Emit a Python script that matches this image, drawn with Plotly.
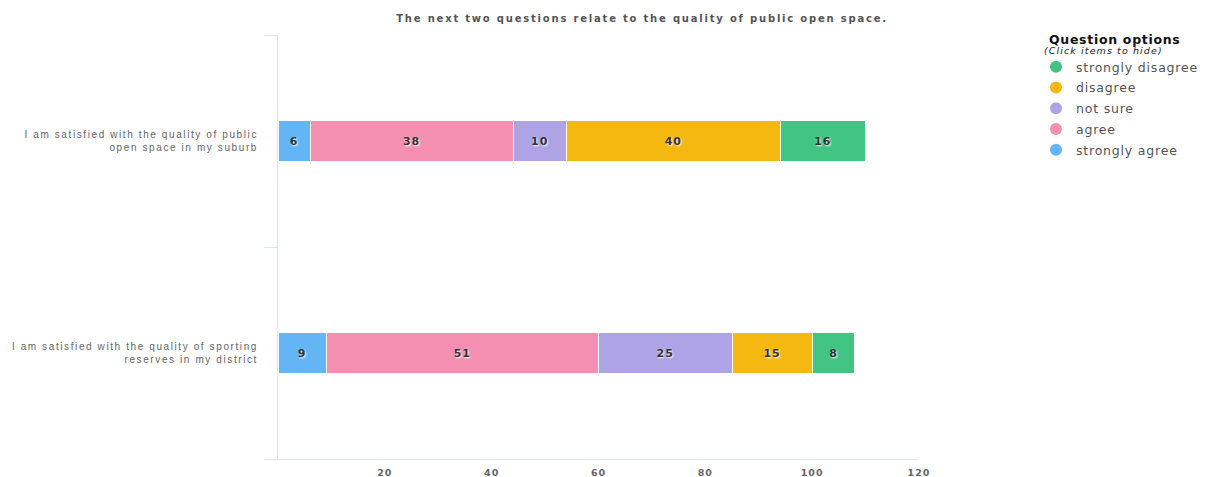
import plotly.graph_objects as go

categories = [
    "I am satisfied with the quality of sporting<br>reserves in my district",
    "I am satisfied with the quality of public<br>open space in my suburb",
]
series_names = ["strongly agree", "agree", "not sure", "disagree", "strongly disagree"]
strongly_agree = [9, 6]
agree = [51, 38]
not_sure = [25, 10]
disagree = [15, 40]
strongly_disagree = [8, 16]
series_values = [strongly_agree, agree, not_sure, disagree, strongly_disagree]
colors = ["#64b5f6", "#f48fb1", "#ada3e5", "#f4b811", "#42c483"]
x_ticks = [20, 40, 60, 80, 100, 120]
title = "The next two questions relate to the quality of public open space."
legend_title = "Question options"
legend_subtitle = "(Click items to hide)"


def spaced(s, px):
    return "<span style='letter-spacing:%spx'>%s</span>" % (px, s)


def py(screen_y):
    # paper y for a screen pixel row (plot area spans screen rows 35..459)
    return 1 - (screen_y - 35) / 424


def px(screen_x):
    # paper x for a screen pixel column (plot area spans screen cols 278..919)
    return (screen_x - 278) / 641


fig = go.Figure()
for name, vals, col in zip(series_names, series_values, colors):
    fig.add_trace(go.Bar(
        y=categories, x=vals, name=name, orientation="h",
        marker=dict(color=col, line=dict(color="white", width=1)),
        text=[spaced(str(v), 1) for v in vals], textposition="inside",
        insidetextanchor="middle", textangle=0,
        textfont=dict(family="DejaVu Sans", size=11, color="#333333", weight="bold",
                      shadow="1px 1px 2px white"),
        width=0.195, legendgroup=name, showlegend=False,
        hoverinfo="x+name",
    ))

# legend entries (circle markers), listed top-to-bottom as in the reference
for name, col in reversed(list(zip(series_names, colors))):
    fig.add_trace(go.Scatter(
        x=[None], y=[None], mode="markers", name=spaced(name, 0.8), legendgroup=name,
        marker=dict(color=col, size=16, symbol="circle"),
    ))

fig.add_annotation(
    text="<b>" + spaced(legend_title, 0.7) + "</b>", xref="paper", yref="paper",
    x=px(1047), y=py(39), xanchor="left", yanchor="middle", showarrow=False,
    font=dict(family="DejaVu Sans", size=12.5, color="#111111"),
)
fig.add_annotation(
    text="<i>" + spaced(legend_subtitle, 1.1) + "</i>", xref="paper", yref="paper",
    x=px(1042), y=py(50.5), xanchor="left", yanchor="middle", showarrow=False,
    font=dict(family="DejaVu Sans", size=9.5, color="#222222"),
)

fig.update_layout(
    barmode="stack",
    width=1206, height=477,
    margin=dict(l=270, r=295, t=27, b=26, autoexpand=False),
    paper_bgcolor="white", plot_bgcolor="white",
    showlegend=True,
    title=dict(text="<b>" + spaced(title, 1.8) + "</b>", x=0.568, xref="paper", xanchor="center",
               y=0.979, yanchor="middle",
               font=dict(family="DejaVu Sans", size=10, color="#555555")),
    legend=dict(
        x=1.1825, y=0.9594, xanchor="left", yanchor="top",
        traceorder="grouped",
        font=dict(family="DejaVu Sans", size=12.5, color="#555555"),
        itemsizing="constant", tracegroupgap=1.5,
    ),
    xaxis=dict(
        range=[0, 120], tickvals=x_ticks, ticktext=[spaced(str(t), 1) for t in x_ticks],
        showgrid=False, zeroline=False,
        showline=True, linecolor="#dce4ee", linewidth=1,
        ticks="", tickfont=dict(family="DejaVu Sans", size=9.5, color="#666666", weight="bold"),
        ticklabelstandoff=5,
        fixedrange=True,
    ),
    yaxis=dict(
        type="category", showgrid=False, zeroline=False,
        showline=True, linecolor="#dce4ee", linewidth=1,
        ticks="outside", tickson="boundaries", ticklen=13, tickcolor="#dce4ee",
        tickvals=categories, ticktext=[spaced(c, 1.6) for c in categories],
        tickfont=dict(family="Liberation Sans", size=10, color="#666666"),
        ticklabelstandoff=17,
        fixedrange=True,
    ),
)

fig.write_html("out.html")
